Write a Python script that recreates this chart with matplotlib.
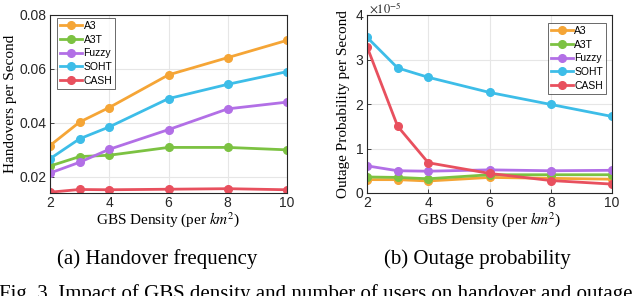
import matplotlib
matplotlib.use('Agg')
import matplotlib.pyplot as plt
from matplotlib.ticker import FuncFormatter

plt.rcParams['mathtext.fontset'] = 'stix'

density = [2, 3, 4, 6, 8, 10]
names = ['A3', 'A3T', 'Fuzzy', 'SOHT', 'CASH']
colors = ['#F5A536', '#7CC242', '#B26FE6', '#3DBDE8', '#E8505E']

# handovers per second
ho_a3 = [0.0316, 0.0403, 0.0457, 0.0578, 0.0642, 0.0706]
ho_a3t = [0.0240, 0.0275, 0.0280, 0.0309, 0.0309, 0.0300]
ho_fuzzy = [0.0214, 0.0254, 0.0302, 0.0375, 0.0452, 0.0477]
ho_soht = [0.0267, 0.0341, 0.0385, 0.0490, 0.0543, 0.0590]
ho_cash = [0.0143, 0.0153, 0.0152, 0.0154, 0.0156, 0.0152]

# outage probability per second (x1e-5)
out_a3 = [0.30, 0.30, 0.27, 0.35, 0.33, 0.31]
out_a3t = [0.36, 0.35, 0.32, 0.41, 0.41, 0.41]
out_fuzzy = [0.61, 0.50, 0.49, 0.52, 0.50, 0.51]
out_soht = [3.50, 2.81, 2.60, 2.26, 1.99, 1.72]
out_cash = [3.29, 1.50, 0.68, 0.44, 0.28, 0.20]

ho = [ho_a3, ho_a3t, ho_fuzzy, ho_soht, ho_cash]
out = [out_a3, out_a3t, out_fuzzy, out_soht, out_cash]

tickfont = 'Liberation Sans'
serif = 'Liberation Serif'
dark = '#262626'

fig = plt.figure(figsize=(6.4, 2.96), dpi=100)
W, H = 640, 296
ax1 = fig.add_axes([50/W, 1-193/H, 237/W, 178/H])
ax2 = fig.add_axes([367/W, 1-193/H, 245/W, 178/H])

for ax, data in [(ax1, ho), (ax2, out)]:
    for name, c, ys in zip(names, colors, data):
        ax.plot(density, ys, '-o', color=c, lw=2, ms=5.5, label=name)
    ax.set_xlim(2, 10)
    ax.set_xticks([2, 4, 6, 8, 10])
    ax.grid(True, color='#e6e6e6', lw=0.8)
    ax.set_axisbelow(True)
    for s in ax.spines.values():
        s.set_color(dark)
        s.set_linewidth(0.8)
    ax.tick_params(direction='in', length=3, width=0.6, labelsize=10, pad=2.5,
                   colors=dark, top=False, right=False)
    ax.set_xlabel('GBS Density (per $km^2$)', fontfamily=serif, fontsize=11, labelpad=0)

ax1.set_ylim(0.014, 0.08)
ax1.set_yticks([0.02, 0.04, 0.06, 0.08])
ax1.yaxis.set_major_formatter(FuncFormatter(lambda v, p: '%.2f' % v))
ax1.set_ylabel('Handovers per Second', fontfamily=serif, fontsize=11, labelpad=2)

ax2.set_ylim(0, 4)
ax2.set_yticks([0, 1, 2, 3, 4])
ax2.set_ylabel('Outage Probability per Second', fontfamily=serif, fontsize=11, labelpad=4)

for ax in (ax1, ax2):
    for lab in ax.get_xticklabels() + ax.get_yticklabels():
        lab.set_fontfamily(tickfont)

fig.text(369/W, 1-1/H, r'$\times10^{-5}$', fontsize=9, ha='left', va='top', color=dark)

leg_kw = dict(prop={'family': tickfont, 'size': 7.5}, frameon=True, fancybox=False,
              edgecolor=dark, handlelength=2.1, handletextpad=0.15, borderpad=0.3,
              labelspacing=0.35, borderaxespad=0)
l1 = ax1.legend(loc='upper left', bbox_to_anchor=(7/237, 1-3/178), **leg_kw)
l2 = ax2.legend(loc='upper right', bbox_to_anchor=(1-6/245, 1-8/178), **leg_kw)
for l in (l1, l2):
    l.get_frame().set_linewidth(0.6)

fig.text(157/W, 1-259/H, '(a) Handover frequency', fontfamily=serif, fontsize=15,
         ha='center', va='center')
fig.text(477/W, 1-259/H, '(b) Outage probability', fontfamily=serif, fontsize=15,
         ha='center', va='center')
fig.text(-1/W, 1-299/H, 'Fig. 3. Impact of GBS density and number of users on handover and outage',
         fontfamily=serif, fontsize=15, ha='left', va='baseline')

fig.savefig('out.png', dpi=100)
